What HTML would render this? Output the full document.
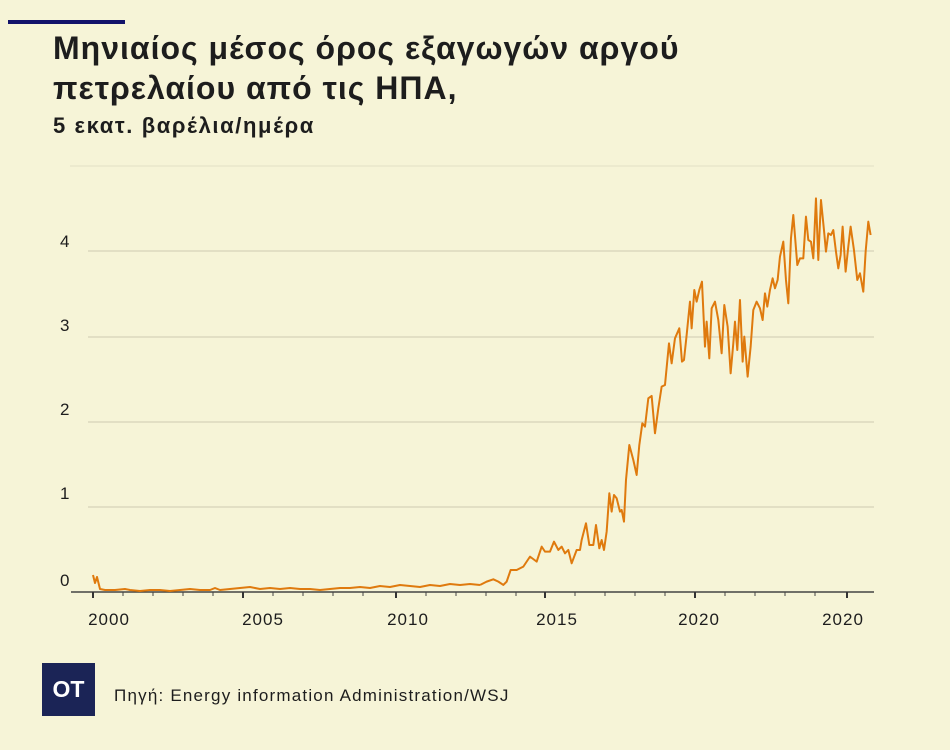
<!DOCTYPE html>
<html><head><meta charset="utf-8"><style>
html,body{margin:0;padding:0}
body{width:950px;height:750px;background:#f6f4d7;position:relative;overflow:hidden;font-family:"Liberation Sans","DejaVu Sans",sans-serif;color:#1d1d1d}
.bar{position:absolute;left:8px;top:20px;width:117px;height:4px;background:#12136a}
.t{position:absolute;left:53px;font-weight:bold;white-space:nowrap}
.logo{position:absolute;left:42px;top:663px;width:53px;height:53px;background:#1b2456;color:#fff;font-weight:bold;font-size:23px;line-height:53px;text-align:center}
.src{position:absolute;left:114px;top:686px;font-size:17px;letter-spacing:1.2px}
</style></head><body>
<div class="bar"></div>
<div class="t" style="top:30px;font-size:32px;letter-spacing:1px">Μηνιαίος μέσος όρος εξαγωγών αργού</div>
<div class="t" style="top:70px;font-size:32px;letter-spacing:1px">πετρελαίου από τις ΗΠΑ,</div>
<div class="t" style="top:113px;font-size:22px;letter-spacing:1.6px">5 εκατ. βαρέλια/ημέρα</div>
<svg width="950" height="750" style="position:absolute;left:0;top:0">
<g stroke="#e2dfc4" stroke-width="2">
<line x1="70" y1="166" x2="874" y2="166" stroke-width="1"/>
<line x1="88" y1="251" x2="874" y2="251"/>
<line x1="88" y1="337" x2="874" y2="337"/>
<line x1="88" y1="422" x2="874" y2="422"/>
<line x1="88" y1="507" x2="874" y2="507"/>
</g>
<g font-size="17" fill="#1d1d1d" font-family="Liberation Sans, sans-serif">
<text x="60" y="247">4</text><text x="60" y="331">3</text><text x="60" y="415">2</text><text x="60" y="499">1</text><text x="60" y="586">0</text>
</g>
<line x1="71" y1="592" x2="874" y2="592" stroke="#444" stroke-width="1.5"/>
<g stroke="#444" stroke-width="1">
<line x1="123" y1="592" x2="123" y2="596"/><line x1="153" y1="592" x2="153" y2="596"/><line x1="183" y1="592" x2="183" y2="596"/><line x1="213" y1="592" x2="213" y2="596"/>
<line x1="273" y1="592" x2="273" y2="596"/><line x1="303" y1="592" x2="303" y2="596"/><line x1="333" y1="592" x2="333" y2="596"/><line x1="363" y1="592" x2="363" y2="596"/>
<line x1="426" y1="592" x2="426" y2="596"/><line x1="456" y1="592" x2="456" y2="596"/><line x1="486" y1="592" x2="486" y2="596"/><line x1="516" y1="592" x2="516" y2="596"/>
<line x1="575" y1="592" x2="575" y2="596"/><line x1="605" y1="592" x2="605" y2="596"/><line x1="635" y1="592" x2="635" y2="596"/><line x1="665" y1="592" x2="665" y2="596"/>
<line x1="725" y1="592" x2="725" y2="596"/><line x1="755" y1="592" x2="755" y2="596"/><line x1="785" y1="592" x2="785" y2="596"/><line x1="815" y1="592" x2="815" y2="596"/>
</g>
<g stroke="#333" stroke-width="2">
<line x1="93" y1="592" x2="93" y2="598"/><line x1="243" y1="592" x2="243" y2="598"/><line x1="396" y1="592" x2="396" y2="598"/><line x1="545" y1="592" x2="545" y2="598"/><line x1="695" y1="592" x2="695" y2="598"/><line x1="847" y1="592" x2="847" y2="598"/>
</g>
<g font-size="17" fill="#1d1d1d" text-anchor="middle" font-family="Liberation Sans, sans-serif" letter-spacing="1">
<text x="109" y="625">2000</text><text x="263" y="625">2005</text><text x="408" y="625">2010</text><text x="557" y="625">2015</text><text x="699" y="625">2020</text><text x="843" y="625">2020</text>
</g>
<polyline fill="none" stroke="#df7a0e" stroke-width="2" stroke-linejoin="round" points="93,575 95,583 97,577 100,589 105,590 115,590 125,589 130,590 140,591 150,590 160,590 170,591 180,590 190,589 200,590 210,590 215,588 220,590 230,589 240,588 250,587 260,589 270,588 280,589 290,588 300,589 310,589 320,590 330,589 340,588 350,588 360,587 370,588 380,586 390,587 400,585 410,586 420,587 430,585 440,586 450,584 460,585 470,584 480,585"/>
<g transform="translate(480,180) scale(0.3333)">
<polyline fill="none" stroke="#df7a0e" stroke-width="6" stroke-linejoin="round" points="0,1215 20,1205 40,1198 55,1205 70,1215 80,1205 92,1170 110,1170 130,1160 150,1130 170,1145 185,1100 195,1115 210,1115 222,1085 235,1110 245,1100 255,1120 265,1110 275,1150 290,1110 300,1110 305,1080 318,1030 328,1095 340,1095 348,1035 358,1105 365,1080 372,1110 380,1055 388,940 395,995 402,945 410,955 420,995 425,990 432,1025 438,900 448,795 460,840 470,885 478,795 487,730 495,740 505,655 515,648 525,760 535,685 545,620 555,615 567,490 575,550 585,475 598,445 606,545 612,540 620,465 630,365 635,445 643,330 650,365 658,330 666,305 675,500 680,425 688,535 695,385 705,365 715,420 725,520 733,375 743,440 752,580 760,490 765,425 772,510 780,360 788,545 793,470 803,590 812,500 820,390 830,365 840,385 848,420 855,340 862,380 870,330 878,295 885,325 893,300 900,230 910,185 918,300 925,370 933,175 940,105 952,255 960,235 970,235 978,110 985,180 993,185 1000,235 1008,55 1015,240 1023,60 1032,150 1038,215 1045,160 1053,165 1060,150 1068,215 1075,265 1082,225 1088,140 1097,275 1105,200 1112,140 1122,210 1132,300 1140,280 1150,335 1157,215 1165,125 1172,165"/>
</g>
</svg>
<div class="logo">OT</div>
<div class="src">Πηγή: Energy information Administration/WSJ</div>
</body></html>
